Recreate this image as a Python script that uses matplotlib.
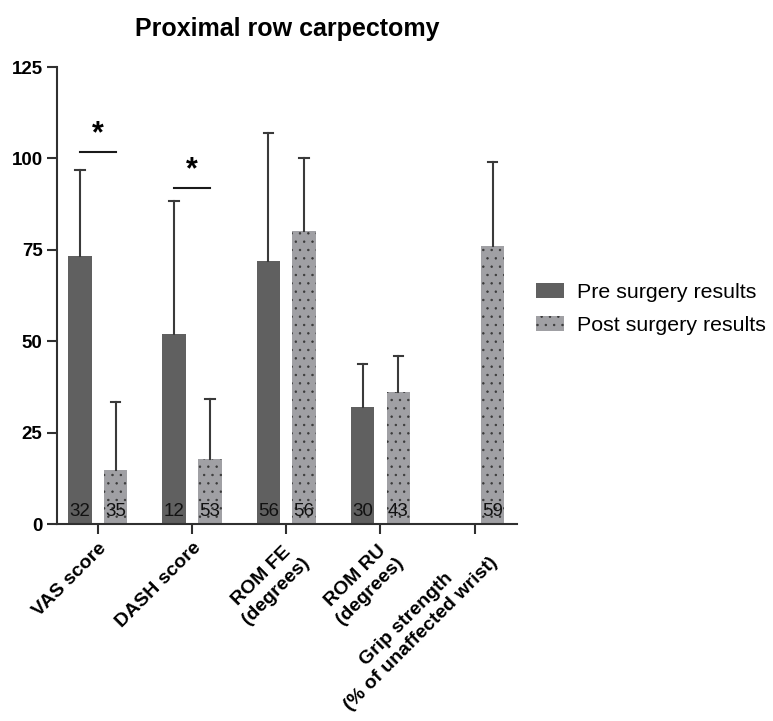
import numpy as np
import matplotlib
matplotlib.use("Agg")
import matplotlib.pyplot as plt

plt.rcParams['font.family'] = ['Liberation Sans', 'DejaVu Sans']
plt.rcParams['hatch.linewidth'] = 0.5

# data
categories = ['VAS score', 'DASH score', 'ROM FE\n(degrees)', 'ROM RU\n(degrees)',
              'Grip strength\n(% of unaffected wrist)']
pre_mean = [73.4, 51.9, 72.0, 32.1, np.nan]
pre_sd = [23.4, 36.5, 35.1, 11.7, np.nan]
post_mean = [14.8, 17.8, 80.3, 36.1, 76.1]
post_sd = [18.6, 16.5, 19.9, 9.9, 22.9]
pre_n = ['32', '12', '56', '30', '']
post_n = ['35', '53', '56', '43', '59']
# significance brackets: (category index, height)
sig = [(0, 101.8), (1, 91.8)]

pre_color = '#606060'
post_color = '#a0a0a4'
err_color = '#3a3a3a'

fig = plt.figure(figsize=(7.73, 7.21), dpi=100)
ax = fig.add_axes([0.074, 0.273, 0.595, 0.634])

x = np.arange(len(categories))
off = 0.19
w = 0.25

ax.bar(x - off, pre_mean, w, color=pre_color, label='Pre surgery results', zorder=2)
ax.bar(x + off, post_mean, w, facecolor=post_color, hatch='..',
       edgecolor='#383838', linewidth=0, label='Post surgery results', zorder=2)


def upper_err(xs, means, sds):
    for xi, m, s in zip(xs, means, sds):
        if np.isnan(m):
            continue
        ax.plot([xi, xi], [m, m + s], color=err_color, lw=1.5, zorder=3)
        ax.plot([xi - 0.05, xi + 0.05], [m + s, m + s], color=err_color, lw=1.5, zorder=3)


upper_err(x - off, pre_mean, pre_sd)
upper_err(x + off, post_mean, post_sd)

for xi, t in zip(x - off, pre_n):
    ax.text(xi, 1.2, t, ha='center', va='bottom', fontsize=13.5, color='#111111', zorder=4)
for xi, t in zip(x + off, post_n):
    ax.text(xi, 1.2, t, ha='center', va='bottom', fontsize=13.5, color='#111111', zorder=4)

for i, h in sig:
    ax.plot([i - off, i + off], [h, h], color='#1a1a1a', lw=1.5)
    ax.text(i, h + 0.8, '*', ha='center', va='bottom', fontsize=22, fontweight='bold')

ax.set_xlim(-0.43, 4.45)
ax.set_ylim(0, 125)
ax.set_yticks([0, 25, 50, 75, 100, 125])
ax.set_xticks(x)
ax.set_xticklabels(categories, rotation=45, ha='right', rotation_mode='anchor',
                   multialignment='center', fontsize=14, fontweight='bold', linespacing=1.3)
for lab in ax.get_yticklabels():
    lab.set_fontweight('bold')
ax.tick_params(axis='y', labelsize=13.5, length=7, width=1.5, color='#303030')
ax.tick_params(axis='x', length=7, width=1.5, color='#303030', pad=4)

for sp in ['top', 'right']:
    ax.spines[sp].set_visible(False)
for sp in ['left', 'bottom']:
    ax.spines[sp].set_linewidth(1.5)
    ax.spines[sp].set_color('#303030')

ax.set_title('Proximal row carpectomy', fontsize=18, fontweight='bold', pad=22)

ax.legend(loc='center left', bbox_to_anchor=(1.0, 0.47), frameon=False, fontsize=15.4,
          handlelength=1.3, handleheight=0.7, labelspacing=0.65, handletextpad=0.6)

fig.savefig('out.png', dpi=100)
